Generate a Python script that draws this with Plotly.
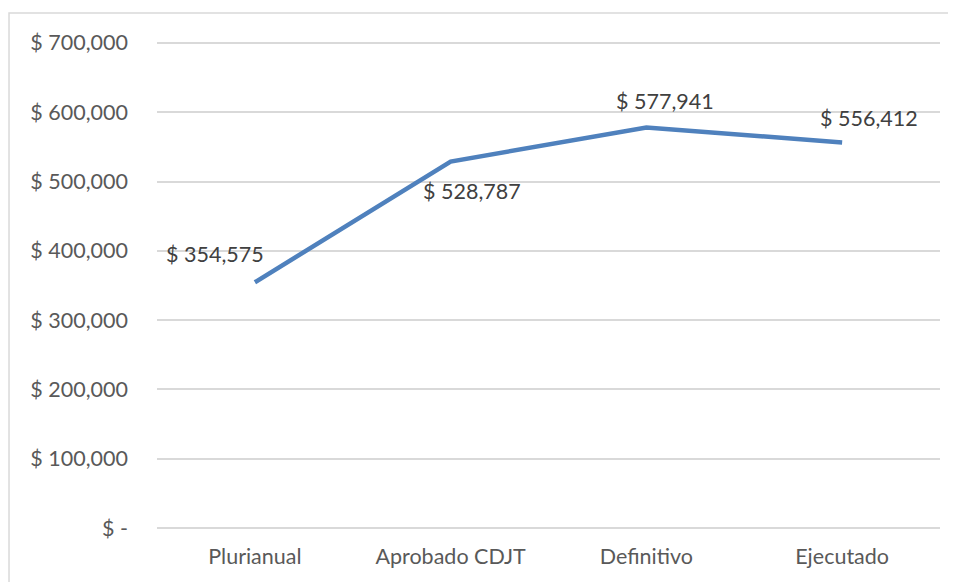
import plotly.graph_objects as go

categorias = ["Plurianual", "Aprobado CDJT", "Definitivo", "Ejecutado"]
valores = [354575, 528787, 577941, 556412]

tick_vals = [0, 100000, 200000, 300000, 400000, 500000, 600000, 700000]
tick_text = ["$ -", "$ 100,000", "$ 200,000", "$ 300,000",
             "$ 400,000", "$ 500,000", "$ 600,000", "$ 700,000"]

# desplazamiento de cada etiqueta respecto a su punto (px)
label_shift = [(-40, 28), (21, -29), (19, 27), (27, 24)]

FONT = "Lato, 'Open Sans', sans-serif"

fig = go.Figure()

fig.add_trace(
    go.Scatter(
        x=categorias,
        y=valores,
        mode="lines",
        line=dict(color="rgb(79, 129, 189)", width=4.5),
        showlegend=False,
        hoverinfo="skip",
    )
)

for cat, val, (dx, dy) in zip(categorias, valores, label_shift):
    fig.add_annotation(
        x=cat,
        y=val,
        text=f"$ {val:,}",
        showarrow=False,
        xshift=dx,
        yshift=dy,
        font=dict(family=FONT, size=21.5, color="#404040"),
    )

# marco del grafico (recortado a la derecha y abajo, como en el original)
fig.add_shape(
    type="rect",
    xref="paper",
    yref="paper",
    x0=-0.189,
    x1=1.2,
    y0=-0.3,
    y1=1.0467,
    line=dict(color="#d9d9d9", width=1.5),
    layer="below",
)

fig.update_layout(
    width=956,
    height=582,
    margin=dict(l=149, r=24, t=28, b=62),
    paper_bgcolor="white",
    plot_bgcolor="white",
    font=dict(family=FONT, size=21.5, color="#595959"),
    xaxis=dict(
        range=[-0.5, 3.5],
        showgrid=False,
        showline=False,
        zeroline=False,
        ticks="",
        tickfont=dict(size=21.5, color="#595959"),
        ticklabelstandoff=13,
    ),
    yaxis=dict(
        range=[0, 710000],
        tickvals=tick_vals,
        ticktext=tick_text,
        showgrid=True,
        gridcolor="#d9d9d9",
        gridwidth=1.5,
        zeroline=True,
        zerolinecolor="#d9d9d9",
        zerolinewidth=1.5,
        showline=False,
        ticks="",
        tickfont=dict(size=21.5, color="#595959"),
        ticklabelstandoff=28,
    ),
)

fig.write_html("out.html")
